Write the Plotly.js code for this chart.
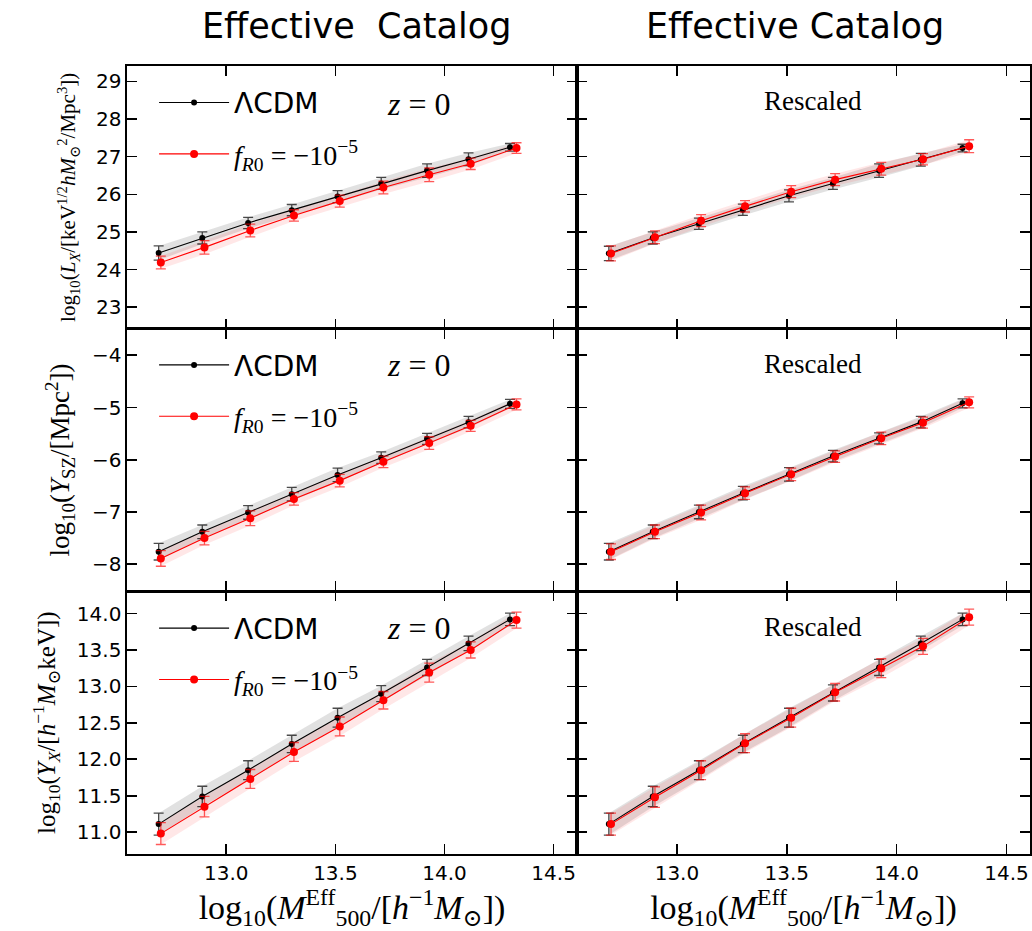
<!DOCTYPE html>
<html>
<head>
<meta charset="utf-8">
<script src="https://cdn.plot.ly/plotly-3.0.1.min.js"></script>
<style>html,body{margin:0;padding:0;background:#fff;}#chart{width:1032px;height:931px;}</style>
</head>
<body>
<div id="chart"></div>
<script>
// ---- data ----
const massLcdm = [12.69, 12.89, 13.10, 13.30, 13.51, 13.71, 13.92, 14.11, 14.30];
const massFr   = [12.70, 12.90, 13.11, 13.31, 13.52, 13.72, 13.93, 14.12, 14.33];

const lxLcdm     = [24.44, 24.84, 25.24, 25.58, 25.94, 26.29, 26.63, 26.93, 27.25];
const lxLcdmErr  = [0.19, 0.16, 0.15, 0.15, 0.16, 0.16, 0.18, 0.17, 0.10];
const lxFr       = [24.19, 24.59, 25.04, 25.44, 25.82, 26.18, 26.52, 26.81, 27.23];
const lxFrErr    = [0.17, 0.18, 0.17, 0.15, 0.16, 0.17, 0.18, 0.15, 0.14];
const lxLcdmRes  = [24.43, 24.84, 25.22, 25.59, 25.96, 26.29, 26.63, 26.92, 27.23];
const lxFrRes    = [24.43, 24.86, 25.30, 25.68, 26.07, 26.39, 26.68, 26.93, 27.28];
const lxFrResErr = [0.20, 0.17, 0.16, 0.15, 0.16, 0.16, 0.17, 0.15, 0.17];

const yszLcdm    = [-7.76, -7.38, -7.01, -6.66, -6.29, -5.96, -5.60, -5.28, -4.93];
const yszLcdmErr = [0.16, 0.13, 0.13, 0.13, 0.13, 0.11, 0.105, 0.11, 0.085];
const yszFr      = [-7.89, -7.50, -7.12, -6.75, -6.40, -6.04, -5.68, -5.35, -4.94];
const yszFrErr   = [0.15, 0.13, 0.14, 0.12, 0.12, 0.11, 0.12, 0.105, 0.105];
const yszLcdmRes = [-7.76, -7.38, -7.00, -6.64, -6.28, -5.93, -5.59, -5.28, -4.92];
const yszFrRes   = [-7.76, -7.38, -7.01, -6.64, -6.28, -5.94, -5.59, -5.29, -4.90];

const yxLcdm     = [11.11, 11.49, 11.85, 12.21, 12.57, 12.90, 13.26, 13.59, 13.92];
const yxLcdmErr  = [0.15, 0.14, 0.13, 0.12, 0.13, 0.11, 0.11, 0.10, 0.085];
const yxFr       = [10.98, 11.35, 11.73, 12.10, 12.45, 12.81, 13.19, 13.50, 13.91];
const yxFrErr    = [0.15, 0.14, 0.13, 0.13, 0.13, 0.12, 0.13, 0.11, 0.11];
const yxLcdmRes  = [11.11, 11.49, 11.85, 12.21, 12.57, 12.91, 13.26, 13.59, 13.92];
const yxFrRes    = [11.11, 11.48, 11.85, 12.22, 12.57, 12.92, 13.25, 13.55, 13.95];

const nameLcdm = 'ΛCDM';
const nameFr = '<span style="font-family:\'Liberation Serif\',serif;"><i>f</i><sub><i>R</i>0</sub> = −10<sup>−5</sup></span>';
const colTitleL = 'Effective  Catalog';
const colTitleR = 'Effective Catalog';

// ---- helpers ----
const SERIF = "'Liberation Serif', 'DejaVu Serif', serif";
const SANS = "'DejaVu Sans', sans-serif";

function band(xs, ys, err, xa, ya, fillcolor) {
  const up = ys.map((v, i) => v + err[i]);
  const lo = ys.map((v, i) => v - err[i]);
  return {
    x: xs.concat(xs.slice().reverse()),
    y: up.concat(lo.slice().reverse()),
    xaxis: xa, yaxis: ya, type: 'scatter', mode: 'lines',
    fill: 'toself', fillcolor: fillcolor, line: {width: 0, color: 'rgba(0,0,0,0)'},
    hoverinfo: 'skip', showlegend: false
  };
}
function series(xs, ys, err, xa, ya, color, errColor, msize, name, legend, show) {
  return {
    x: xs, y: ys, xaxis: xa, yaxis: ya, type: 'scatter', mode: 'lines+markers',
    name: name, legend: legend, showlegend: show, legendgroup: name + legend,
    line: {color: color, width: 1.1},
    marker: {color: color, size: msize},
    error_y: {type: 'data', array: err, visible: true, color: errColor, thickness: 1.3, width: 5}
  };
}

const GREY = 'rgba(120,120,120,0.22)';
const PINK = 'rgba(255,60,60,0.12)';
const BLK = 'black', BLKE = 'rgba(0,0,0,0.7)';
const RED = 'red', REDE = 'rgba(255,0,0,0.65)';

const panels = [
  {xa: 'x',  ya: 'y',  l: lxLcdm,    le: lxLcdmErr,  f: lxFr,    fe: lxFrErr,    leg: 'legend'},
  {xa: 'x2', ya: 'y2', l: lxLcdmRes, le: lxLcdmErr,  f: lxFrRes, fe: lxFrResErr, leg: null},
  {xa: 'x3', ya: 'y3', l: yszLcdm,   le: yszLcdmErr, f: yszFr,   fe: yszFrErr,   leg: 'legend2'},
  {xa: 'x4', ya: 'y4', l: yszLcdmRes,le: yszLcdmErr, f: yszFrRes,fe: yszFrErr,   leg: null},
  {xa: 'x5', ya: 'y5', l: yxLcdm,    le: yxLcdmErr,  f: yxFr,    fe: yxFrErr,    leg: 'legend3'},
  {xa: 'x6', ya: 'y6', l: yxLcdmRes, le: yxLcdmErr,  f: yxFrRes, fe: yxFrErr,    leg: null}
];

const data = [];
panels.forEach(p => {
  data.push(band(massLcdm, p.l, p.le, p.xa, p.ya, GREY));
  data.push(band(massFr, p.f, p.fe, p.xa, p.ya, PINK));
});
panels.forEach(p => {
  const leg = p.leg || 'legend';
  const show = !!p.leg;
  data.push(series(massLcdm, p.l, p.le, p.xa, p.ya, BLK, BLKE, 6, nameLcdm, leg, show));
  data.push(series(massFr, p.f, p.fe, p.xa, p.ya, RED, REDE, 8, nameFr, leg, show));
});

// ---- layout ----
const xRange = [12.545, 14.607];
const colL = [0, 0.4983], colR = [0.4983, 1];
const rowT = [2/3, 1], rowM = [1/3, 2/3], rowB = [0, 1/3];

function xax(dom, anchor, labels) {
  return {
    domain: dom, anchor: anchor, range: xRange, dtick: 0.5, tick0: 13.0, tickformat: '.1f',
    ticks: 'inside', ticklen: 10, tickwidth: 1.6, tickcolor: 'black',
    showline: true, linecolor: 'black', linewidth: 1.6, mirror: 'ticks',
    showgrid: false, zeroline: false, showticklabels: labels,
    tickfont: {family: SANS, size: 20, color: 'black'},
    title: labels ? {text: 'log<sub>10</sub>(<i>M</i><sup>Eff</sup><sub>500</sub>/[<i>h</i><sup>−1</sup><i>M</i><sub>⊙</sub>])',
                     font: {family: SERIF, size: 34, color: 'black'}, standoff: 4} : {text: ''}
  };
}
function yax(dom, anchor, range, dtick, fmt, labels, title, tsize) {
  return {
    domain: dom, anchor: anchor, range: range, dtick: dtick, tickformat: fmt,
    ticks: 'inside', ticklen: 10, tickwidth: 1.6, tickcolor: 'black',
    showline: true, linecolor: 'black', linewidth: 1.6, mirror: 'ticks',
    showgrid: false, zeroline: false, showticklabels: labels,
    tickfont: {family: SANS, size: 20, color: 'black'},
    title: title ? {text: title, font: {family: SERIF, size: tsize, color: 'black'}, standoff: 14} : {text: ''}
  };
}

const rLx = [22.43, 29.41], rSz = [-8.52, -3.49], rYx = [10.70, 14.305];

function legendAt(yPaper) {
  return {
    x: 0.03, y: yPaper, xanchor: 'left', yanchor: 'top',
    bgcolor: 'rgba(0,0,0,0)', borderwidth: 0,
    font: {family: SANS, size: 28, color: 'black'},
    traceorder: 'grouped', tracegroupgap: 12, itemwidth: 70
  };
}

const layout = {
  width: 1032, height: 931,
  margin: {l: 127, r: 2, t: 66, b: 77},
  paper_bgcolor: 'white', plot_bgcolor: 'white',
  font: {family: SANS, color: 'black'},
  showlegend: true,
  xaxis:  xax(colL, 'y',  false),
  xaxis2: xax(colR, 'y2', false),
  xaxis3: xax(colL, 'y3', false),
  xaxis4: xax(colR, 'y4', false),
  xaxis5: xax(colL, 'y5', true),
  xaxis6: xax(colR, 'y6', true),
  yaxis:  yax(rowT, 'x',  rLx, 1, 'd', true,
    'log<sub>10</sub>(<i>L<sub>X</sub></i>/[keV<sup>1/2</sup><i>hM</i><sub>⊙</sub><sup>2</sup>/Mpc<sup>3</sup>])', 21),
  yaxis2: yax(rowT, 'x2', rLx, 1, 'd', false, null),
  yaxis3: yax(rowM, 'x3', rSz, 1, 'd', true,
    'log<sub>10</sub>(<i>Y</i><sub>SZ</sub>/[Mpc<sup>2</sup>])', 27),
  yaxis4: yax(rowM, 'x4', rSz, 1, 'd', false, null),
  yaxis5: yax(rowB, 'x5', rYx, 0.5, '.1f', true,
    'log<sub>10</sub>(<i>Y<sub>X</sub></i>/[<i>h</i><sup>−1</sup><i>M</i><sub>⊙</sub>keV])', 25),
  yaxis6: yax(rowB, 'x6', rYx, 0.5, '.1f', false, null),
  legend:  legendAt(0.985),
  legend2: legendAt(0.652),
  legend3: legendAt(0.318),
  annotations: [
    {text: colTitleL, xref: 'paper', yref: 'paper', x: 0.2547, y: 1, yshift: 40,
     xanchor: 'center', yanchor: 'middle', showarrow: false, font: {family: SANS, size: 35, color: 'black'}},
    {text: colTitleR, xref: 'paper', yref: 'paper', x: 0.7397, y: 1, yshift: 40,
     xanchor: 'center', yanchor: 'middle', showarrow: false, font: {family: SANS, size: 35, color: 'black'}},
    {text: '<i>z</i> = 0', xref: 'x domain', yref: 'y domain', x: 0.65, y: 0.855, showarrow: false,
     xanchor: 'center', yanchor: 'middle', font: {family: SERIF, size: 32, color: 'black'}},
    {text: '<i>z</i> = 0', xref: 'x3 domain', yref: 'y3 domain', x: 0.65, y: 0.86, showarrow: false,
     xanchor: 'center', yanchor: 'middle', font: {family: SERIF, size: 32, color: 'black'}},
    {text: '<i>z</i> = 0', xref: 'x5 domain', yref: 'y5 domain', x: 0.65, y: 0.86, showarrow: false,
     xanchor: 'center', yanchor: 'middle', font: {family: SERIF, size: 32, color: 'black'}},
    {text: 'Rescaled', xref: 'x2 domain', yref: 'y2 domain', x: 0.52, y: 0.865, showarrow: false,
     xanchor: 'center', yanchor: 'middle', font: {family: SERIF, size: 27, color: 'black'}},
    {text: 'Rescaled', xref: 'x4 domain', yref: 'y4 domain', x: 0.52, y: 0.865, showarrow: false,
     xanchor: 'center', yanchor: 'middle', font: {family: SERIF, size: 27, color: 'black'}},
    {text: 'Rescaled', xref: 'x6 domain', yref: 'y6 domain', x: 0.52, y: 0.865, showarrow: false,
     xanchor: 'center', yanchor: 'middle', font: {family: SERIF, size: 27, color: 'black'}}
  ]
};

Plotly.newPlot('chart', data, layout, {displayModeBar: false, staticPlot: true});
</script>
</body>
</html>
